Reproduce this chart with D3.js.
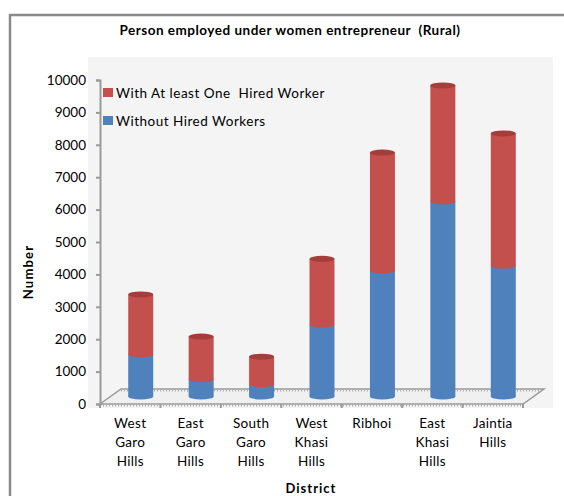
<!DOCTYPE html>
<html>
<head>
<meta charset="utf-8">
<script src="https://cdn.jsdelivr.net/npm/d3@7"></script>
<style>
html,body{margin:0;padding:0;background:#fff;}
svg{display:block;font-family:Lato,"Liberation Sans",sans-serif;}
text{white-space:pre;}
</style>
</head>
<body>
<svg id="chart" width="564" height="496"></svg>
<script>
const districts = [
  ["West","Garo","Hills"],
  ["East","Garo","Hills"],
  ["South","Garo","Hills"],
  ["West","Khasi","Hills"],
  ["Ribhoi"],
  ["East","Khasi","Hills"],
  ["Jaintia","Hills"]
];
const withoutHired = [1300, 530, 380, 2220, 3890, 6020, 4040];
const withHired    = [1850, 1320, 850, 2030, 3640, 3580, 4080];
const yTicks = [0,1000,2000,3000,4000,5000,6000,7000,8000,9000,10000];
const seriesNames = ["With At least One  Hired Worker", "Without Hired Workers"];
const titleText = "Person employed under women entrepreneur  (Rural)";

const svg = d3.select("#chart");
const red = "#c4504e", redTop = "#a53d3b", blue = "#4f81bd", blueTop = "#3d6aa0";

// outer border
svg.append("path").attr("d","M10,500 L10,15 L570,15")
  .attr("fill","none").attr("stroke","#8a8a8a").attr("stroke-width",2.5);

// plot area background
svg.append("rect").attr("x",88).attr("y",57).attr("width",465).attr("height",351).attr("fill","#f4f4f4");

// title
svg.append("text").attr("x",290).attr("y",35).attr("text-anchor","middle")
  .attr("font-weight","bold").attr("font-size",13.5).attr("letter-spacing",0.5).text(titleText);

const x0 = 100, x1 = 523;
const x = d3.scaleBand().domain(d3.range(districts.length)).range([x0,x1]).padding(0);
const y = d3.scaleLinear().domain([0,10000]).range([404,80]);
const depthX = 21, depthY = -15;
const midX = depthX/2, midY = depthY/2;

// floor parallelogram
const floorY = y(0);
const floor = svg.append("g");
floor.append("path")
  .attr("d",`M${x0},${floorY} L${x0+depthX},${floorY+depthY} L${x1+depthX},${floorY+depthY} L${x1},${floorY} Z`)
  .attr("fill","#f0f0f0").attr("stroke","#9a9a9a").attr("stroke-width",1.5);
[[floorY],[floorY+depthY]].forEach(([yy],i)=>{
  const xs = i===0 ? x0 : x0+depthX;
  floor.append("line").attr("x1",xs).attr("x2",xs+(x1-x0)).attr("y1",yy+1.5).attr("y2",yy+1.5)
    .attr("stroke","#a8a8a8").attr("stroke-width",2).attr("stroke-dasharray","1,2");
});

// y axis
const yAxisG = svg.append("g").attr("transform",`translate(${x0},0)`)
  .call(d3.axisLeft(y).tickValues(yTicks).tickSize(4).tickPadding(10).tickFormat(d3.format("d")));
yAxisG.select(".domain").attr("stroke","#9a9a9a").attr("stroke-width",2);
yAxisG.selectAll(".tick line").attr("stroke","#9a9a9a").attr("stroke-width",2);
yAxisG.selectAll(".tick text").attr("font-size",13.5).attr("font-family","Lato,'Liberation Sans',sans-serif").attr("fill","#000");

// x axis ticks on front edge
const xTickPos = d3.range(districts.length+1).map(i => x0 + i*x.step());
svg.selectAll(".xtick").data(xTickPos).enter().append("line")
  .attr("x1",d=>d).attr("x2",d=>d).attr("y1",floorY).attr("y2",floorY+4)
  .attr("stroke","#9a9a9a").attr("stroke-width",2);

// category labels
const cat = svg.append("g");
districts.forEach((lines,i)=>{
  const cx = x(i)+x.bandwidth()/2;
  const t = cat.append("text").attr("x",cx).attr("y",428)
    .attr("text-anchor","middle").attr("font-size",13.5).attr("letter-spacing",0.3);
  lines.forEach((l,j)=>t.append("tspan").attr("x",cx).attr("dy",j===0?0:19).text(l));
});

// cylinders
const bw = 25, ry = 3;
function cylinder(g, cx, yb, yt, fill, topFill, drawTop){
  g.append("rect").attr("x",cx-bw/2).attr("y",yt).attr("width",bw).attr("height",yb-yt).attr("fill",fill);
  g.append("ellipse").attr("cx",cx).attr("cy",yb).attr("rx",bw/2).attr("ry",ry).attr("fill",fill);
  if(drawTop) g.append("ellipse").attr("cx",cx).attr("cy",yt).attr("rx",bw/2).attr("ry",ry).attr("fill",topFill);
}
const bars = svg.append("g");
districts.forEach((d,i)=>{
  const cx = x(i)+x.bandwidth()/2+midX;
  const b0 = y(0)+midY, b1 = y(withoutHired[i])+midY, b2 = y(withoutHired[i]+withHired[i])+midY;
  const g = bars.append("g");
  cylinder(g,cx,b0,b1,blue,blueTop,false);
  cylinder(g,cx,b1,b2,red,redTop,true);
});

// legend
const legend = svg.append("g");
[[red,seriesNames[0]],[blue,seriesNames[1]]].forEach(([c,n],i)=>{
  legend.append("rect").attr("x",103).attr("y",88+i*28).attr("width",10).attr("height",9).attr("fill",c);
  legend.append("text").attr("x",116).attr("y",98+i*28).attr("font-size",13.5).attr("letter-spacing",0.5).text(n);
});

// axis titles
svg.append("text").attr("transform","translate(33,272) rotate(-90)").attr("text-anchor","middle")
  .attr("font-weight","bold").attr("font-size",13).attr("letter-spacing",1.2).text("Number");
svg.append("text").attr("x",311).attr("y",493).attr("text-anchor","middle")
  .attr("font-weight","bold").attr("font-size",13).attr("letter-spacing",1).text("District");
</script>
</body>
</html>
